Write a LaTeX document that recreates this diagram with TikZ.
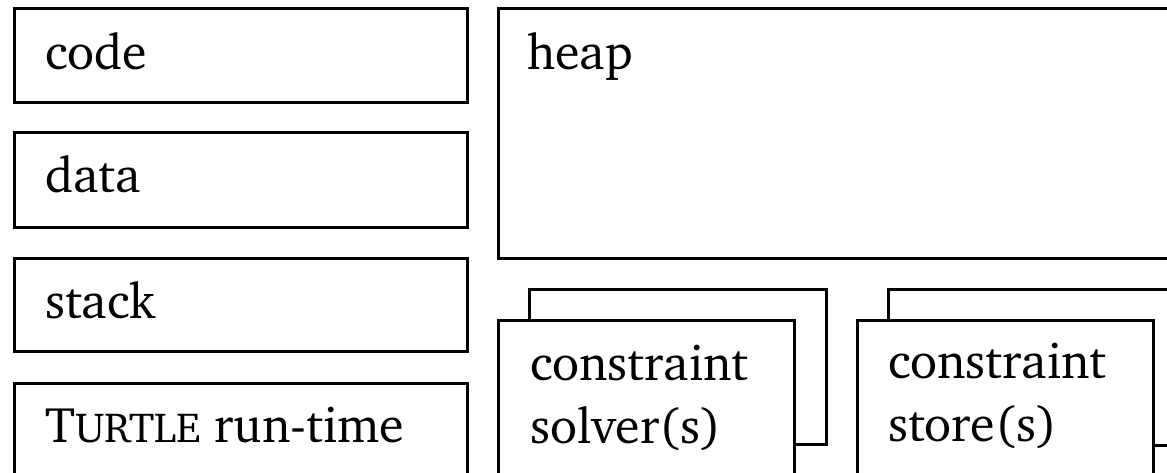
\documentclass[tikz,border=0pt]{standalone}
\usepackage[T1]{fontenc}
\usepackage{charter}
\begin{document}
\begin{tikzpicture}[x=1pt,y=-1pt,
  box/.style={draw=black,fill=white,line width=2.6pt,rectangle,inner sep=0pt,anchor=north west},
  lbl/.style={anchor=base west,inner sep=0pt,font=\fontsize{50}{63}\selectfont,align=left}]
\useasboundingbox (0,0) rectangle (1167,473);
% left column
\node[box,minimum width=453pt,minimum height=94pt] (code) at (13,7) {};
\node[box,minimum width=453pt,minimum height=95pt] (data) at (13,131) {};
\node[box,minimum width=453pt,minimum height=93pt] (stack) at (13,257) {};
\node[box,minimum width=453pt,minimum height=140pt] (turtle) at (13,382) {};
\node[lbl] (tcode) at (45,70) {code};
\node[lbl] (tdata) at (45,193) {data};
\node[lbl] (tstack) at (45,318) {stack};
\node[lbl] (tturtle) at (45,442) {T{\fontsize{42}{50}\selectfont URTLE} run-time};
% heap
\node[box,minimum width=720pt,minimum height=250pt] (heap) at (497,7) {};
\node[lbl] (theap) at (527,70) {heap};
% constraint solvers
\node[box,minimum width=297pt,minimum height=155pt] (solverback) at (528,288) {};
\node[box,minimum width=296pt,minimum height=200pt] (solver) at (497,319) {};
\node[lbl] (tsolver) at (530,443) {constraint\\solver(s)};
% constraint stores
\node[box,minimum width=297pt,minimum height=156pt] (storeback) at (887,288) {};
\node[box,minimum width=296pt,minimum height=200pt] (store) at (856,319) {};
\node[lbl] (tstore) at (888,441) {constraint\\store(s)};
\end{tikzpicture}
\end{document}
